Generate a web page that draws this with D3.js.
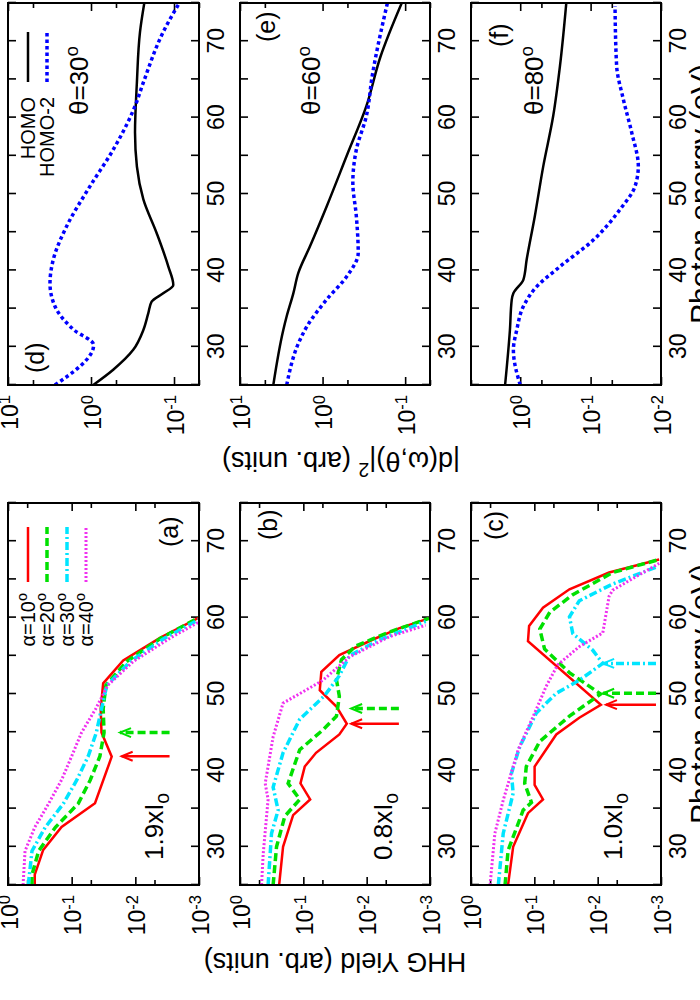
<!DOCTYPE html>
<html>
<head>
<meta charset="utf-8">
<title>HHG yield and dipole moments</title>
<script src="https://d3js.org/d3.v7.min.js"></script>
<style>
  body { margin: 0; background: #fff; }
  text { font-family: "Liberation Sans", Arial, Helvetica, sans-serif; fill: #000; }
</style>
</head>
<body>
<script>
// ---- data: [photon energy (eV), value] ----
// HHG yield, panels (a) 1.9 I0, (b) 0.8 I0, (c) 1.0 I0 ; alpha = 10,20,30,40 deg
const yieldA10 = [[25,0.38],[26.35,0.38],[29.6,0.28],[32.6,0.144],[35.7,0.043],[41.8,0.0235],[44.95,0.034],[48.05,0.035],[51.4,0.032],[54.4,0.0155],[57.35,0.0041],[60.45,0.00078]];
const yieldA20 = [[25,0.42],[26.35,0.42],[29.45,0.33],[32.55,0.18],[35.65,0.079],[38.75,0.051],[41.85,0.036],[44.95,0.031],[48.05,0.032],[51.15,0.029],[54.25,0.0137],[57.35,0.0039],[60.45,0.0008]];
const yieldA30 = [[25,0.48],[29.45,0.42],[32.55,0.26],[35.65,0.135],[38.75,0.083],[41.85,0.055],[44.95,0.041],[48.05,0.034],[51.15,0.028],[54.25,0.012],[57.35,0.0034],[60.45,0.0007]];
const yieldA40 = [[25,0.58],[29.45,0.54],[32.55,0.38],[35.65,0.23],[38.75,0.144],[41.85,0.10],[44.95,0.07],[48.05,0.042],[51.15,0.027],[54.25,0.0108],[57.35,0.0028],[60.45,0.0006]];

const yieldB10 = [[25,0.241],[30,0.209],[34.15,0.145],[36.2,0.078],[38.3,0.111],[40.5,0.095],[42.3,0.063],[44.7,0.027],[46.1,0.0206],[48.35,0.030],[50.5,0.055],[52.9,0.052],[55.1,0.027],[57.1,0.0081],[58.6,0.0031],[59.9,0.00104]];
const yieldB20 = [[25,0.30],[30,0.265],[34,0.196],[36.2,0.114],[38.3,0.174],[42.7,0.114],[45.3,0.049],[47.1,0.030],[49.7,0.027],[51.9,0.030],[54.5,0.025],[56.3,0.0148],[58.1,0.0044],[59.9,0.00104]];
const yieldB30 = [[25,0.36],[31.75,0.318],[34.8,0.25],[37.8,0.30],[42.3,0.209],[46.7,0.114],[49.8,0.046],[52.4,0.027],[55.0,0.0187],[57.1,0.0063],[59.5,0.00117]];
const yieldB40 = [[25,0.457],[29.1,0.43],[36.2,0.36],[38.3,0.40],[44.4,0.30],[48.8,0.209],[51.8,0.049],[54.85,0.0187],[57.5,0.0044],[59.0,0.00117]];

const yieldC10 = [[25,0.26],[30,0.216],[34.4,0.126],[36.2,0.073],[38.1,0.099],[40.5,0.099],[44.7,0.045],[46.9,0.0195],[48.6,0.0089],[56.9,0.126],[58.9,0.121],[61.3,0.073],[63.7,0.0279],[65.9,0.0066],[67.6,0.00107]];
const yieldC20 = [[25,0.29],[29.5,0.26],[34.8,0.15],[35.8,0.111],[38.3,0.142],[40.5,0.134],[43.8,0.082],[47.1,0.0279],[50.0,0.009],[52.8,0.028],[55.9,0.069],[58.5,0.082],[60.7,0.057],[63.0,0.0247],[65.9,0.0058],[67.6,0.00107]];
const yieldC30 = [[25,0.37],[31.75,0.31],[37,0.216],[39.6,0.23],[43.1,0.17],[47.5,0.093],[50.1,0.045],[51.8,0.0195],[54.0,0.0083],[55.75,0.012],[57.9,0.0247],[60.1,0.0279],[62.2,0.0195],[64.4,0.0058],[66.6,0.0012]];
const yieldC40 = [[25,0.50],[31.75,0.42],[36.1,0.31],[42.7,0.18],[47.0,0.105],[51.0,0.065],[53.8,0.043],[56.2,0.0195],[58.0,0.0083],[62.8,0.0066],[63.6,0.0058],[67.1,0.00107]];

// arrows marking the minima: [energy, tail value, tip value, style index]
const arrowsA = [[41.85,0.0029,0.0164,0],[44.95,0.0029,0.0174,1]];
const arrowsB = [[46.1,0.0031,0.0176,0],[48.1,0.0031,0.0176,1]];
const arrowsC = [[48.6,0.0012,0.0074,0],[50.1,0.0012,0.0082,1],[54.0,0.0012,0.0082,2]];

// |d(w,theta)|^2 for HOMO and HOMO-2, panels (d) 30, (e) 60, (f) 80 deg
const dipD1 = [[25,0.94],[27,0.54],[29.6,0.31],[32.2,0.234],[34.4,0.204],[35.9,0.186],[37,0.135],[38.1,0.102],[40.5,0.117],[44.9,0.162],[49.3,0.234],[53.6,0.28],[58.05,0.295],[64.6,0.28],[71.2,0.257],[75.5,0.224]];
const dipD2 = [[25,2.72],[30.25,0.93],[32.2,1.6],[35.3,2.72],[38.3,3.12],[41.4,2.85],[45.8,1.96],[51,1.03],[55.8,0.54],[61.5,0.295],[64.6,0.234],[71.2,0.135],[75.5,0.081]];
const dipE1 = [[25,3.95],[32.2,2.99],[34,2.72],[37,2.26],[39.65,1.97],[43.15,1.42],[48.4,0.89],[55,0.51],[61.5,0.295],[67.9,0.20],[75.5,0.105]];
const dipE2 = [[25,2.72],[30.9,1.88],[32.65,1.55],[36.2,0.89],[39.2,0.51],[42.3,0.37],[47.1,0.39],[51.5,0.43],[55.8,0.39],[60.2,0.295],[65.5,0.25],[75.5,0.16]];
const dipF1 = [[25,1.64],[32.2,1.40],[36.15,1.32],[37,1.25],[38.8,0.90],[41.4,0.81],[47.1,0.62],[53.65,0.47],[60.2,0.34],[66.8,0.272],[75.5,0.219]];
const dipF2 = [[25,1.0],[29.6,1.25],[32.2,1.12],[35.3,0.90],[37.9,0.58],[40.5,0.272],[44,0.091],[48,0.038],[51,0.0234],[53.65,0.021],[58,0.026],[62.4,0.0343],[66.8,0.0427],[74.6,0.045]];

const alphaLabels = ['10', '20', '30', '40'];
const orbitalLabels = ['HOMO', 'HOMO-2'];
const intensityLabels = ['1.9', '0.8', '1.0'];
const thetaLabels = ['30', '60', '80'];
const energyTicks = d3.range(25, 76, 5);

// ---- styles ----
const alphaStyle = [
  {color: '#ff0000', width: 2.5, dash: null},
  {color: '#00e000', width: 3.5, dash: '8,4'},
  {color: '#00e5ff', width: 3.5, dash: '8,3,2,3'},
  {color: '#f030f0', width: 3, dash: '2,2'}
];
const orbitalStyle = [
  {color: '#000000', width: 2.5, dash: null},
  {color: '#0000ff', width: 3.5, dash: '3.5,3'}
];

// everything is laid out in the landscape frame (1000 x 700) and then turned by -90 deg
const svg = d3.select('body').append('svg').attr('width', 700).attr('height', 1000);
const root = svg.append('g').attr('transform', 'translate(0,1000) rotate(-90)');

const colX = [[115, 497], [615, 997]];
const rowY = [[8, 199], [240, 430], [471, 661]];

function sup(sel, base, exp, raise) {
  sel.append('tspan').text(base);
  sel.append('tspan').attr('dy', raise || '-0.55em').attr('font-size', '0.72em').text(exp);
}

function panel(cfg) {
  const [x0, x1] = colX[cfg.col];
  const [y0, y1] = rowY[cfg.row];
  const x = d3.scaleLinear().domain([25, 75]).range([x0, x1]);
  const y = d3.scaleLog().domain(cfg.yDomain).range([y0, y1]);
  const g = root.append('g');
  const id = 'clip' + cfg.name;

  g.append('clipPath').attr('id', id)
    .append('rect').attr('x', x0).attr('y', y0).attr('width', x1 - x0).attr('height', y1 - y0);

  // energy axis (bottom with labels, top mirrored)
  g.append('g').attr('transform', 'translate(0,' + y1 + ')')
    .call(d3.axisBottom(x).tickValues(energyTicks).tickSizeInner(-8).tickSizeOuter(0).tickPadding(9)
      .tickFormat(d => d % 10 === 0 ? d : ''));
  g.append('g').attr('transform', 'translate(0,' + y0 + ')')
    .call(d3.axisTop(x).tickValues(energyTicks).tickSizeInner(-8).tickSizeOuter(0).tickFormat(''));

  // log axis
  const left = g.append('g').attr('transform', 'translate(' + x0 + ',0)')
    .call(d3.axisLeft(y).tickValues(cfg.major).tickSizeInner(-8).tickSizeOuter(0).tickPadding(10).tickFormat(''));
  g.append('g').attr('transform', 'translate(' + x0 + ',0)')
    .call(d3.axisLeft(y).tickValues(cfg.minor).tickSizeInner(-5).tickSizeOuter(0).tickFormat(''));
  g.append('g').attr('transform', 'translate(' + x1 + ',0)')
    .call(d3.axisRight(y).tickValues(cfg.major).tickSizeInner(-8).tickSizeOuter(0).tickFormat(''));
  g.append('g').attr('transform', 'translate(' + x1 + ',0)')
    .call(d3.axisRight(y).tickValues(cfg.minor).tickSizeInner(-5).tickSizeOuter(0).tickFormat(''));

  g.selectAll('.domain').remove();
  g.selectAll('.tick line').attr('stroke', '#000').attr('stroke-width', 1.6);
  g.selectAll('.tick text').attr('font-size', 23).attr('font-family', null).attr('fill', '#000');
  left.selectAll('.tick text').attr('dy', '0.4em').each(function(d) {
    sup(d3.select(this), '10', String(Math.round(Math.log10(d))), '-0.45em');
  });

  // curves
  const line = d3.line().x(d => x(d[0])).y(d => y(d[1]))
    .curve(cfg.smooth ? d3.curveMonotoneX : d3.curveLinear);
  cfg.series.forEach((s, i) => {
    const st = cfg.styles[i];
    g.append('path').datum(s)
      .attr('clip-path', 'url(#' + id + ')')
      .attr('d', line)
      .attr('fill', 'none')
      .attr('stroke', st.color)
      .attr('stroke-width', st.width)
      .attr('stroke-dasharray', st.dash)
      .attr('stroke-linejoin', 'miter');
  });

  // arrows
  (cfg.arrows || []).forEach(a => {
    const st = cfg.styles[a[3]];
    const ax = x(a[0]), yt = y(a[1]), yh = y(a[2]);
    g.append('line').attr('x1', ax).attr('x2', ax).attr('y1', yt).attr('y2', yh)
      .attr('stroke', st.color).attr('stroke-width', st.width).attr('stroke-dasharray', st.dash);
    g.append('path').attr('d', 'M' + (ax - 4.5) + ',' + (yh + 11) + 'L' + ax + ',' + yh + 'L' + (ax + 4.5) + ',' + (yh + 11))
      .attr('fill', 'none').attr('stroke', st.color).attr('stroke-width', 2);
  });

  // frame
  g.append('rect').attr('x', x0).attr('y', y0).attr('width', x1 - x0).attr('height', y1 - y0)
    .attr('fill', 'none').attr('stroke', '#000').attr('stroke-width', 2);

  return {g, x, y, x0, x1, y0, y1};
}

const yieldCfg = {yDomain: [1, 1e-3], major: [1, 0.1, 0.01, 0.001], minor: [0.5, 0.05, 0.005], styles: alphaStyle, smooth: false};
panel(Object.assign({name: 'a', col: 0, row: 0, series: [yieldA10, yieldA20, yieldA30, yieldA40], arrows: arrowsA}, yieldCfg));
panel(Object.assign({name: 'b', col: 0, row: 1, series: [yieldB10, yieldB20, yieldB30, yieldB40], arrows: arrowsB}, yieldCfg));
panel(Object.assign({name: 'c', col: 0, row: 2, series: [yieldC10, yieldC20, yieldC30, yieldC40], arrows: arrowsC}, yieldCfg));

const dipCfg = {yDomain: [10, 0.05], major: [10, 1, 0.1], minor: [5, 0.5, 0.05], styles: orbitalStyle, smooth: true};
panel(Object.assign({name: 'd', col: 1, row: 0, series: [dipD1, dipD2]}, dipCfg));
panel(Object.assign({name: 'e', col: 1, row: 1, series: [dipE1, dipE2]}, dipCfg));
panel(Object.assign({name: 'f', col: 1, row: 2, series: [dipF1, dipF2],
  yDomain: [5, 0.01], major: [1, 0.1, 0.01], minor: [5, 0.5, 0.05], styles: orbitalStyle, smooth: true}));

// panel tags
[['(a)', 453, 178], ['(b)', 460, 277], ['(c)', 460, 503],
 ['(d)', 627, 44], ['(e)', 958, 275], ['(f)', 953, 508]].forEach(t => {
  root.append('text').attr('x', t[1]).attr('y', t[2]).attr('font-size', 25).text(t[0]);
});

// intensity labels
[163, 392, 622].forEach((yy, i) => {
  const tx = root.append('text').attr('x', 140).attr('y', yy).attr('font-size', 26);
  tx.append('tspan').text(intensityLabels[i] + 'xI');
  tx.append('tspan').attr('dy', '0.3em').attr('font-size', '0.75em').text('o');
});

// theta labels
[88, 320, 543].forEach((yy, i) => {
  const tx = root.append('text').attr('x', 885).attr('y', yy).attr('font-size', 26);
  sup(tx, '\u03b8=' + thetaLabels[i], 'o');
});

// legend in (a)
alphaLabels.forEach((lab, i) => {
  const ly = [28, 47, 67, 86][i];
  const tx = root.append('text').attr('x', 407).attr('y', ly).attr('dy', '0.35em')
    .attr('text-anchor', 'end').attr('font-size', 20);
  sup(tx, '\u03b1=' + lab, 'o');
  const st = alphaStyle[i];
  root.append('line').attr('x1', 418).attr('x2', 473).attr('y1', ly).attr('y2', ly)
    .attr('stroke', st.color).attr('stroke-width', st.width).attr('stroke-dasharray', st.dash);
});

// legend in (d)
orbitalLabels.forEach((lab, i) => {
  const ly = [28, 47][i];
  root.append('text').attr('x', 903).attr('y', ly).attr('dy', '0.35em')
    .attr('text-anchor', 'end').attr('font-size', 20).text(lab);
  const st = orbitalStyle[i];
  root.append('line').attr('x1', 918).attr('x2', 968).attr('y1', ly).attr('y2', ly)
    .attr('stroke', st.color).attr('stroke-width', st.width).attr('stroke-dasharray', st.dash);
});

// axis titles
root.append('text').attr('transform', 'translate(47,335) rotate(-90)')
  .attr('text-anchor', 'middle').attr('font-size', 27).text('HHG Yield (arb. units)');
const dt = root.append('text').attr('transform', 'translate(548,341) rotate(-90)')
  .attr('text-anchor', 'middle').attr('font-size', 27);
dt.append('tspan').text('|d(\u03c9,\u03b8)|');
dt.append('tspan').attr('dy', '-0.55em').attr('font-size', '0.72em').text('2');
dt.append('tspan').attr('dy', '0.4em').text(' (arb. units)');
[306, 806].forEach(cx => {
  root.append('text').attr('x', cx).attr('y', 711).attr('text-anchor', 'middle')
    .attr('font-size', 30).text('Photon energy (eV)');
});
</script>
</body>
</html>
